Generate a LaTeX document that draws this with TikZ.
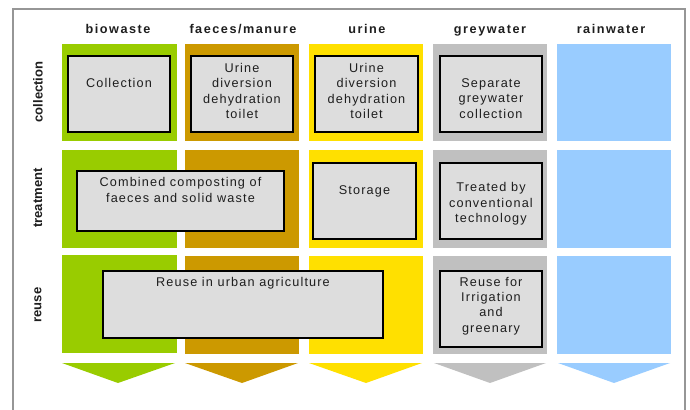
\documentclass[tikz,border=0pt]{standalone}
\usepackage{fontspec}
\setmainfont{Liberation Sans}
\newfontfamily\boxfont[LetterSpace=9]{Liberation Sans}
\newfontfamily\headfont[LetterSpace=12]{Liberation Sans}
\usetikzlibrary{positioning}

\definecolor{biogreen}{RGB}{153,204,0}
\definecolor{faecesbrown}{RGB}{204,153,0}
\definecolor{urineyellow}{RGB}{255,224,0}
\definecolor{greyshade}{RGB}{192,192,192}
\definecolor{rainblue}{RGB}{153,204,255}
\definecolor{boxgrey}{RGB}{221,221,221}
\definecolor{framegrey}{RGB}{150,150,150}
\definecolor{textdark}{RGB}{30,30,30}

\tikzset{
  procbox/.style={draw=black, line width=0.9, fill=boxgrey},
  boxtext/.style={font=\boxfont\fontsize{9.5}{11.5}\selectfont, align=center, text=textdark, inner sep=0},
  colhead/.style={font=\headfont\bfseries\fontsize{9.5}{11.5}\selectfont, text=textdark, inner sep=0, anchor=base},
  rowhead/.style={font=\bfseries\fontsize{9.8}{11.5}\selectfont, text=textdark, rotate=90, inner sep=0}
}

\begin{document}
\begin{tikzpicture}[x=0.75pt,y=0.75pt,yscale=-1]
\useasboundingbox (0,0) rectangle (690,410);

%Frame
\draw [color=framegrey, line width=1.1] (13,410) -- (13,9) -- (685,9) -- (685,410) ;

%Column cells: biowaste
\fill [biogreen] (62,44) rectangle (177,141) ;
\fill [biogreen] (62,150) rectangle (177,248) ;
\fill [biogreen] (62,255) rectangle (177,353) ;
\fill [biogreen] (62,363) -- (175,363) -- (118,383) -- cycle ;
%Column cells: faeces/manure
\fill [faecesbrown] (185,44) rectangle (299,141) ;
\fill [faecesbrown] (185,150) rectangle (299,248) ;
\fill [faecesbrown] (185,256) rectangle (299,354) ;
\fill [faecesbrown] (185,363) -- (298,363) -- (242,383) -- cycle ;
%Column cells: urine
\fill [urineyellow] (309,44) rectangle (423,141) ;
\fill [urineyellow] (309,150) rectangle (423,248) ;
\fill [urineyellow] (309,256) rectangle (423,354) ;
\fill [urineyellow] (309,363) -- (422,363) -- (366,383) -- cycle ;
%Column cells: greywater
\fill [greyshade] (433,44) rectangle (547,141) ;
\fill [greyshade] (433,150) rectangle (547,248) ;
\fill [greyshade] (433,256) rectangle (547,354) ;
\fill [greyshade] (434,363) -- (546,363) -- (490,383) -- cycle ;
%Column cells: rainwater
\fill [rainblue] (557,44) rectangle (671,141) ;
\fill [rainblue] (557,150) rectangle (671,248) ;
\fill [rainblue] (557,256) rectangle (671,354) ;
\fill [rainblue] (558,363) -- (670,363) -- (614,383) -- cycle ;

%Process boxes
\draw [procbox] (68,56) rectangle (170,132) ;
\draw [procbox] (191,56) rectangle (293,132) ;
\draw [procbox] (315,56) rectangle (418,132) ;
\draw [procbox] (440,56) rectangle (542,132) ;
\draw [procbox] (77,171) rectangle (284,231) ;
\draw [procbox] (313,163) rectangle (416,239) ;
\draw [procbox] (440,163) rectangle (542,239) ;
\draw [procbox] (103,271) rectangle (383,338) ;
\draw [procbox] (440,271) rectangle (542,347) ;

% Column heads
\node [colhead] (hbio) at (118,34) {biowaste};
\node [colhead] (hfaeces) at (243,34) {faeces/manure};
\node [colhead] (hurine) at (367,34) {urine};
\node [colhead] (hgrey) at (490,34) {greywater};
\node [colhead] (hrain) at (611,34) {rainwater};

% Row heads
\node [rowhead] (rcollection) at (38,92) {collection};
\node [rowhead] (rtreatment) at (38,198) {treatment};
\node [rowhead] (rreuse) at (38,305) {reuse};

% Text Node
\node [boxtext] (tcollection) at (119,83) {Collection};
% Text Node
\node [boxtext] (tfaecestoilet) at (242,91) {Urine\\diversion\\dehydration\\toilet};
% Text Node
\node [boxtext] (turinetoilet) at (366.5,91) {Urine\\diversion\\dehydration\\toilet};
% Text Node
\node [boxtext] (tgreycollect) at (491,98.5) {Separate\\greywater\\collection};
% Text Node
\node [boxtext] (tcompost) at (180.5,190) {Combined composting of\\faeces and solid waste};
% Text Node
\node [boxtext] (tstorage) at (364.5,191) {Storage};
% Text Node
\node [boxtext] (ttreated) at (491,204) {Treated by\\conventional\\technology};
% Text Node
\node [boxtext] (tagri) at (243,283) {Reuse in urban agriculture};
% Text Node
\node [boxtext] (tirrigation) at (491,306) {Reuse for\\Irrigation\\and\\greenary};

\end{tikzpicture}
\end{document}
